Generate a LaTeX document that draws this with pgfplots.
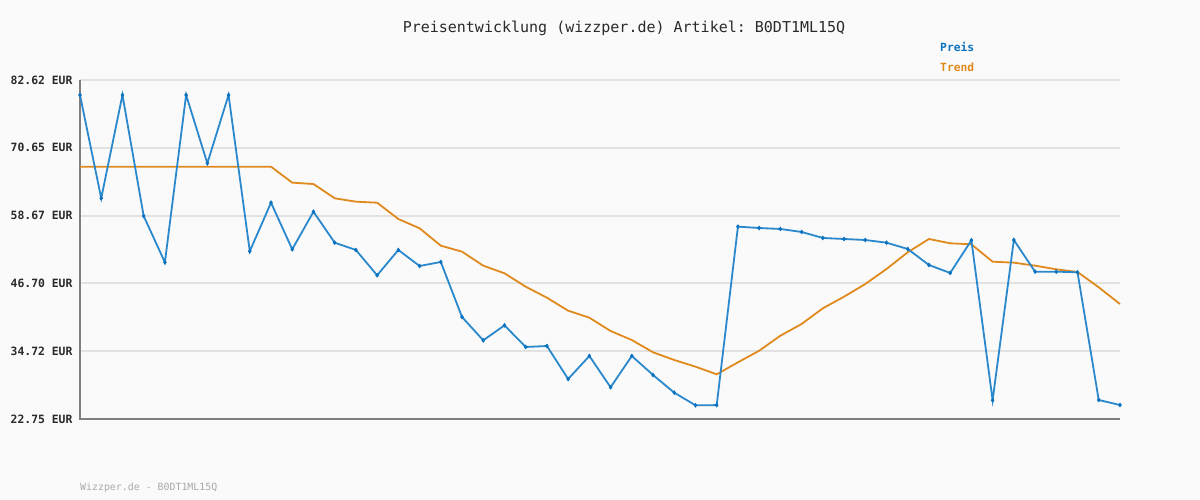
\documentclass[border=0pt]{standalone}
\usepackage{pgfplots}
\pgfplotsset{compat=1.18}
\usepackage{fontspec}
\setmonofont{DejaVu Sans Mono}
\definecolor{bgc}{HTML}{FAFAFA}
\definecolor{preis}{HTML}{2A88CC}
\definecolor{preismark}{HTML}{0B72C0}
\definecolor{trend}{HTML}{E08A1E}
\definecolor{gridc}{HTML}{E2E2E2}
\definecolor{axc}{HTML}{7F7F7F}
\definecolor{txt}{HTML}{2A2A2A}
\definecolor{foot}{HTML}{AAAAAA}
\begin{document}
\begin{tikzpicture}
\fill[bgc] (0pt,0pt) rectangle (1200pt,500pt);
\begin{axis}[
  at={(80pt,81pt)}, anchor=south west,
  scale only axis, width=1040pt, height=339pt,
  xmin=0, xmax=49, ymin=22.75, ymax=82.62,
  axis x line=bottom, axis y line=left,
  axis line style={draw=none, -},
  ytick={22.75,34.72,46.70,58.67,70.65,82.62},
  yticklabels={22.75 EUR,34.72 EUR,46.70 EUR,58.67 EUR,70.65 EUR,82.62 EUR},
  yticklabel style={font=\ttfamily\bfseries\fontsize{11.4}{12}\selectfont, text=txt, anchor=east, xshift=-4pt},
  ymajorgrids, major grid style={gridc, line width=2pt},
  major tick length=0pt, tick style={draw=none},
  clip=false,
  xtick=\empty,
]
\draw[axc, line width=2pt] (axis cs:0,82.62) -- (axis cs:0,22.75) -- (axis cs:49,22.75);
\addplot[trend, line width=1.8pt, no marks] coordinates {
(0,67.31)(1,67.31)(2,67.31)(3,67.31)(4,67.31)(5,67.31)(6,67.31)(7,67.31)(8,67.31)(9,67.31)
(10,64.49)(11,64.25)(12,61.73)(13,61.13)(14,60.95)(15,58.07)(16,56.43)(17,53.36)(18,52.30)(19,49.83)
(20,48.48)(21,46.12)(22,44.17)(23,41.88)(24,40.64)(25,38.29)(26,36.70)(27,34.53)(28,33.17)(29,31.99)
(30,30.64)(31,32.76)(32,34.81)(33,37.46)(34,39.53)(35,42.30)(36,44.35)(37,46.59)(38,49.24)(39,52.19)
(40,54.54)(41,53.78)(42,53.60)(43,50.53)(44,50.36)(45,49.83)(46,49.19)(47,48.71)(48,46.01)(49,43.06)
};
\addplot[preis, line width=1.8pt, mark=diamond*, mark size=2pt, mark options={fill=preismark, draw=preismark, line width=0.5pt}] coordinates {
(0,79.97)(1,61.73)(2,79.97)(3,58.60)(4,50.42)(5,79.97)(6,67.91)(7,79.97)(8,52.37)(9,60.95)
(10,52.72)(11,59.36)(12,53.89)(13,52.60)(14,48.13)(15,52.60)(16,49.77)(17,50.48)(18,40.76)(19,36.64)
(20,39.29)(21,35.47)(22,35.64)(23,29.81)(24,33.88)(25,28.35)(26,33.88)(27,30.52)(28,27.40)(29,25.17)
(30,25.20)(31,56.72)(32,56.48)(33,56.31)(34,55.78)(35,54.72)(36,54.54)(37,54.36)(38,53.89)(39,52.77)
(40,49.95)(41,48.54)(42,54.31)(43,26.05)(44,54.36)(45,48.77)(46,48.77)(47,48.66)(48,26.11)(49,25.22)
};
\end{axis}
\node[font=\ttfamily\fontsize{15}{16}\selectfont, text=txt] at (624pt,472pt) {Preisentwicklung (wizzper.de) Artikel: B0DT1ML15Q};
\node[font=\ttfamily\bfseries\fontsize{11.3}{12}\selectfont, text=preismark, anchor=west, inner sep=0pt] at (940pt,453pt) {Preis};
\node[font=\ttfamily\bfseries\fontsize{11.3}{12}\selectfont, text=trend, anchor=west, inner sep=0pt] at (940pt,433pt) {Trend};
\node[font=\ttfamily\fontsize{9.9}{11}\selectfont, text=foot, anchor=west, inner sep=0pt] at (80pt,12pt) {Wizzper.de - B0DT1ML15Q};
\end{tikzpicture}
\end{document}
